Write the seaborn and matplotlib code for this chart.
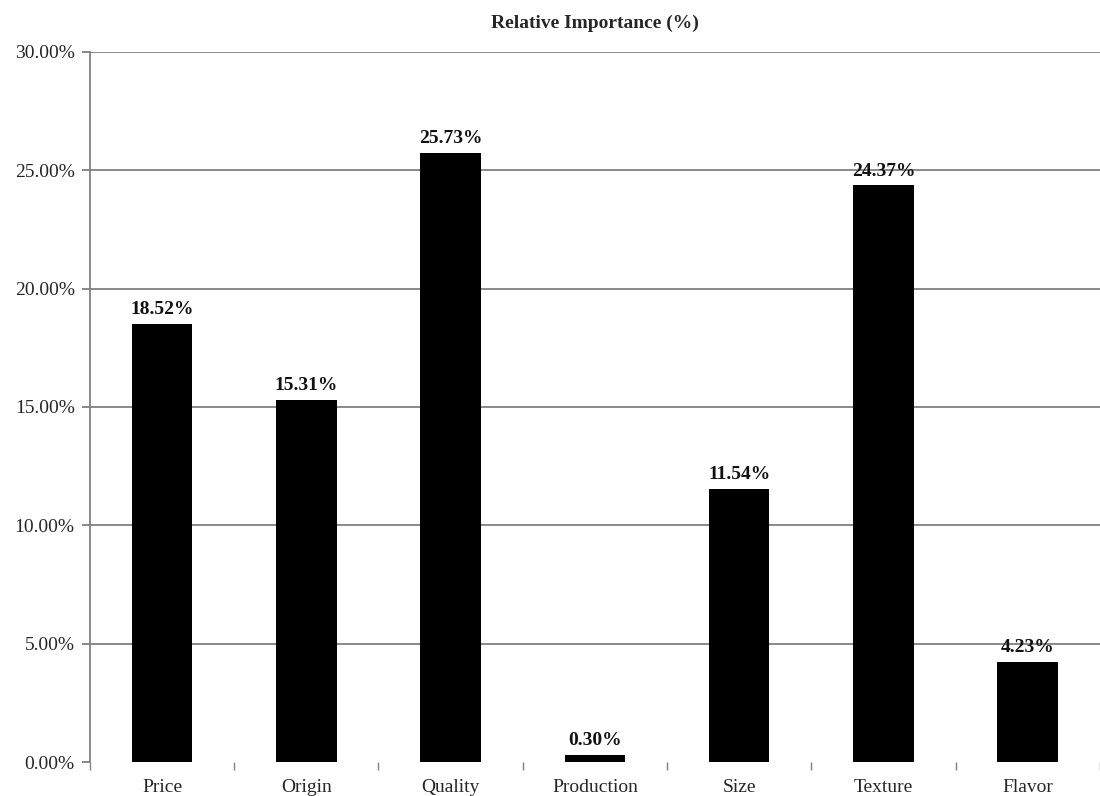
import numpy as np
import pandas as pd
import seaborn as sns
import matplotlib.pyplot as plt
from matplotlib.ticker import FuncFormatter, FixedLocator

attributes = ['Price', 'Origin', 'Quality', 'Production', 'Size', 'Texture', 'Flavor']
importance = [18.52, 15.31, 25.73, 0.30, 11.54, 24.37, 4.23]
y_ticks = [0, 5, 10, 15, 20, 25, 30]

df = pd.DataFrame({'attribute': attributes, 'importance': importance})

sns.set_style('white')
plt.rcParams['font.family'] = ['Liberation Serif', 'DejaVu Serif']

fig = plt.figure(figsize=(11, 7.96), dpi=100)
ax = fig.add_axes([0.0818, 0.0427, 0.918, 0.892])

sns.barplot(data=df, x='attribute', y='importance', color='black',
            width=0.42, saturation=1, linewidth=0, ax=ax, zorder=3)

for c in ax.containers:
    ax.bar_label(c, labels=[f'{v:.2f}%' for v in importance], padding=4,
                 fontsize=14, fontweight='bold', color='#111111')

ax.set_ylim(0, 30)
ax.set_xlim(-0.5, len(attributes) - 0.5)
ax.set_yticks(y_ticks)
ax.yaxis.set_major_formatter(FuncFormatter(lambda v, p: f'{v:.2f}%'))
ax.yaxis.grid(True, color='#808080', linewidth=1.3, zorder=0)
ax.set_axisbelow(True)
# no gridline drawn along the zero level
ax.yaxis.get_gridlines()[0].set_visible(False)

# ticks between categories
ax.xaxis.set_major_locator(FixedLocator(np.arange(len(attributes))))
ax.xaxis.set_minor_locator(FixedLocator(np.arange(len(attributes) + 1) - 0.5))
ax.tick_params(axis='x', which='major', length=0, labelsize=14, pad=12)
ax.tick_params(axis='x', which='minor', length=6, width=1, color='#808080', bottom=True)
ax.tick_params(axis='y', length=6, width=1.3, color='#808080', labelsize=14, left=True, pad=5)

for s in ['top', 'right', 'bottom']:
    ax.spines[s].set_visible(False)
ax.spines['left'].set_color('#808080')
ax.spines['left'].set_linewidth(1.3)

ax.set_xlabel('')
ax.set_ylabel('')
ax.set_title('Relative Importance (%)', fontsize=14, fontweight='bold', pad=17)

plt.savefig('out.png', dpi=100)
